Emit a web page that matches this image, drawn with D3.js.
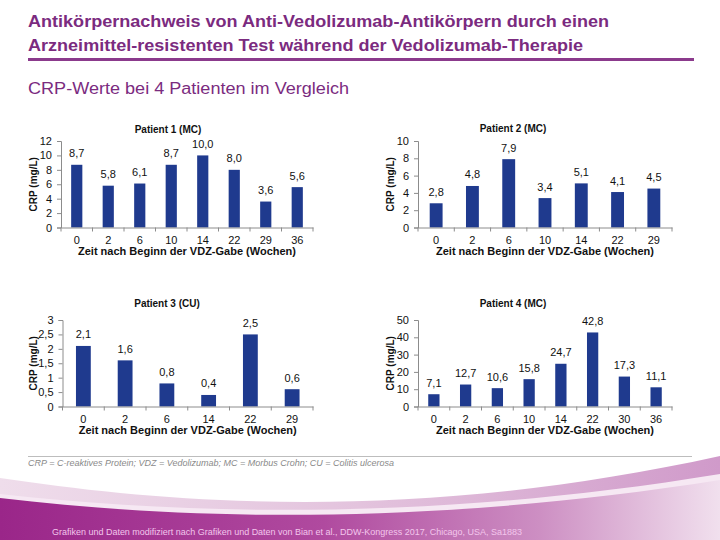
<!DOCTYPE html>
<html><head><meta charset="utf-8">
<script src="https://cdn.jsdelivr.net/npm/d3@7"></script>
<style>
html,body{margin:0;padding:0;background:#fff;}
svg{display:block;font-family:"Liberation Sans",Arial,sans-serif;}
</style></head>
<body>
<script>
// ---- Data ----
const p1Weeks = ["0","2","6","10","14","22","29","36"];
const p1Values = [8.7, 5.8, 6.1, 8.7, 10.0, 8.0, 3.6, 5.6];
const p2Weeks = ["0","2","6","10","14","22","29"];
const p2Values = [2.8, 4.8, 7.9, 3.4, 5.1, 4.1, 4.5];
const p3Weeks = ["0","2","6","14","22","29"];
const p3Values = [2.1, 1.6, 0.8, 0.4, 2.5, 0.6];
const p4Weeks = ["0","2","6","10","14","22","30","36"];
const p4Values = [7.1, 12.7, 10.6, 15.8, 24.7, 42.8, 17.3, 11.1];
const panelTitles = ["Patient 1 (MC)", "Patient 2 (MC)", "Patient 3 (CU)", "Patient 4 (MC)"];
const yMaxes = [12, 10, 3, 50];
const yTicks1 = [0,2,4,6,8,10,12];
const yTicks2 = [0,2,4,6,8,10];
const yTicks3 = [0,0.5,1,1.5,2,2.5,3];
const yTicks4 = [0,10,20,30,40,50];

const W = 720, H = 540;
const svg = d3.select("body").append("svg").attr("width", W).attr("height", H);
const purple = "#7B2B7F";
const barColor = "#1F3A8E";
const axisGray = "#8C8C8C";
const de = d3.formatLocale({decimal: ",", thousands: ".", grouping: [3], currency: ["", " €"]});
const fmtTick = v => de.format("~g")(v);
const fmtVal = de.format(".1f");

// ---- Bottom decoration ----
const defs = svg.append("defs");
const g1 = defs.append("linearGradient").attr("id","gPale").attr("x1","0").attr("x2","1").attr("y1","0").attr("y2","0");
g1.append("stop").attr("offset","0").attr("stop-color","#EFDDEB");
g1.append("stop").attr("offset","0.5").attr("stop-color","#E3C3DD");
g1.append("stop").attr("offset","1").attr("stop-color","#D09ACA");
const g2 = defs.append("linearGradient").attr("id","gMain").attr("x1","0").attr("x2","1").attr("y1","0").attr("y2","0");
g2.append("stop").attr("offset","0").attr("stop-color","#9A2689");
g2.append("stop").attr("offset","0.45").attr("stop-color","#B04A9F");
g2.append("stop").attr("offset","0.75").attr("stop-color","#CD8FC3");
g2.append("stop").attr("offset","1").attr("stop-color","#F1E0EE");
svg.append("path").attr("d","M0,478 C180,505 420,522 720,456 L720,540 L0,540 Z").attr("fill","url(#gPale)");
svg.append("path").attr("d","M0,494 C200,516 440,520 720,474 L720,540 L0,540 Z").attr("fill","#F6E8F3");
svg.append("path").attr("d","M0,498 C200,522 440,524 720,480 L720,540 L0,540 Z").attr("fill","url(#gMain)");

// ---- Header ----
svg.append("text").attr("x",28).attr("y",27).attr("font-size",17).attr("font-weight","bold").attr("fill",purple)
  .attr("textLength",581).attr("lengthAdjust","spacingAndGlyphs")
  .text("Antikörpernachweis von Anti-Vedolizumab-Antikörpern durch einen");
svg.append("text").attr("x",28).attr("y",51).attr("font-size",17).attr("font-weight","bold").attr("fill",purple)
  .attr("textLength",555).attr("lengthAdjust","spacingAndGlyphs")
  .text("Arzneimittel-resistenten Test während der Vedolizumab-Therapie");
svg.append("line").attr("x1",28).attr("x2",694).attr("y1",59.5).attr("y2",59.5).attr("stroke","#8B3A8C").attr("stroke-width",3);
svg.append("text").attr("x",28).attr("y",94).attr("font-size",16).attr("fill",purple)
  .attr("textLength",321).attr("lengthAdjust","spacingAndGlyphs")
  .text("CRP-Werte bei 4 Patienten im Vergleich");

// ---- Panels ----
const panels = [
  {weeks:p1Weeks, vals:p1Values, ticks:yTicks1, max:yMaxes[0], title:panelTitles[0], x0:61, x1:313, yT:141, y0:227.5, tx:168, ty:132.5, yl:33},
  {weeks:p2Weeks, vals:p2Values, ticks:yTicks2, max:yMaxes[1], title:panelTitles[1], x0:418, x1:672, yT:141, y0:227.5, tx:513, ty:131.5, yl:390},
  {weeks:p3Weeks, vals:p3Values, ticks:yTicks3, max:yMaxes[2], title:panelTitles[2], x0:62.5, x1:313, yT:320, y0:406.5, tx:167, ty:306.5, yl:33},
  {weeks:p4Weeks, vals:p4Values, ticks:yTicks4, max:yMaxes[3], title:panelTitles[3], x0:418, x1:672, yT:320, y0:406.5, tx:513, ty:306.5, yl:390}
];

panels.forEach(p => {
  const g = svg.append("g");
  const x = d3.scaleBand().domain(p.weeks).range([p.x0, p.x1]).padding(0);
  const y = d3.scaleLinear().domain([0, p.max]).range([p.y0, p.yT]);
  const bw = x.bandwidth() * 0.355;

  // bars
  g.selectAll("rect.bar").data(p.vals).join("rect").attr("class","bar")
    .attr("x",(d,i)=> x(p.weeks[i]) + x.bandwidth()/2 - bw/2)
    .attr("width",bw)
    .attr("y",d=>y(d)).attr("height",d=>p.y0 - y(d))
    .attr("fill",barColor);

  // value labels
  g.selectAll("text.val").data(p.vals).join("text").attr("class","val")
    .attr("x",(d,i)=> x(p.weeks[i]) + x.bandwidth()/2)
    .attr("y",d=>y(d) - 7.5)
    .attr("text-anchor","middle").attr("font-size",11).attr("fill","#111")
    .text(d=>fmtVal(d));

  // y axis
  const ya = g.append("g").attr("transform",`translate(${p.x0},0)`)
    .call(d3.axisLeft(y).tickValues(p.ticks).tickFormat(fmtTick).tickSizeOuter(0).tickSize(4).tickPadding(5));
  ya.select(".domain").attr("stroke",axisGray);
  ya.selectAll(".tick line").attr("stroke",axisGray);
  ya.selectAll(".tick text").attr("font-size",11).attr("fill","#111").attr("font-family","Liberation Sans, Arial, sans-serif");

  // x axis
  const xa = g.append("g").attr("transform",`translate(0,${p.y0})`)
    .call(d3.axisBottom(x).tickSize(0).tickPadding(9).tickSizeOuter(0));
  xa.select(".domain").attr("stroke",axisGray);
  xa.selectAll(".tick text").attr("font-size",11).attr("fill","#111").attr("font-family","Liberation Sans, Arial, sans-serif");
  const bounds = p.weeks.map(w=>x(w)).concat([p.x1]);
  g.selectAll("line.xt").data(bounds).join("line").attr("class","xt")
    .attr("x1",d=>d).attr("x2",d=>d).attr("y1",p.y0).attr("y2",p.y0+4)
    .attr("stroke",axisGray);

  // titles
  g.append("text").attr("x",p.tx).attr("y",p.ty).attr("text-anchor","middle")
    .attr("font-size",10).attr("font-weight","bold").attr("fill","#111").text(p.title);
  g.append("text").attr("x",(p.x0+p.x1)/2 - 0).attr("y",p.y0 + 27.5).attr("text-anchor","middle")
    .attr("font-size",10).attr("font-weight","bold").attr("fill","#111")
    .attr("textLength",218).attr("lengthAdjust","spacingAndGlyphs")
    .text("Zeit nach Beginn der VDZ-Gabe (Wochen)");
  g.append("text").attr("transform",`translate(${p.yl+3.5},${(p.yT+p.y0)/2}) rotate(-90)`)
    .attr("text-anchor","middle").attr("font-size",10).attr("font-weight","bold").attr("fill","#111")
    .text("CRP (mg/L)");
});

// ---- Footnote ----
svg.append("line").attr("x1",28).attr("x2",692).attr("y1",456.5).attr("y2",456.5).attr("stroke","#BDBDBD").attr("stroke-width",1);
svg.append("text").attr("x",28).attr("y",466).attr("font-size",8.5).attr("font-style","italic").attr("fill","#8A8A8A")
  .attr("textLength",366).attr("lengthAdjust","spacingAndGlyphs")
  .text("CRP = C-reaktives Protein; VDZ = Vedolizumab; MC = Morbus Crohn; CU = Colitis ulcerosa");
svg.append("text").attr("x",52).attr("y",535).attr("font-size",9).attr("fill","#F3C6EC")
  .attr("textLength",470).attr("lengthAdjust","spacingAndGlyphs")
  .text("Grafiken und Daten modifiziert nach Grafiken und Daten von Bian et al., DDW-Kongress 2017, Chicago, USA, Sa1883");
</script>
</body></html>
